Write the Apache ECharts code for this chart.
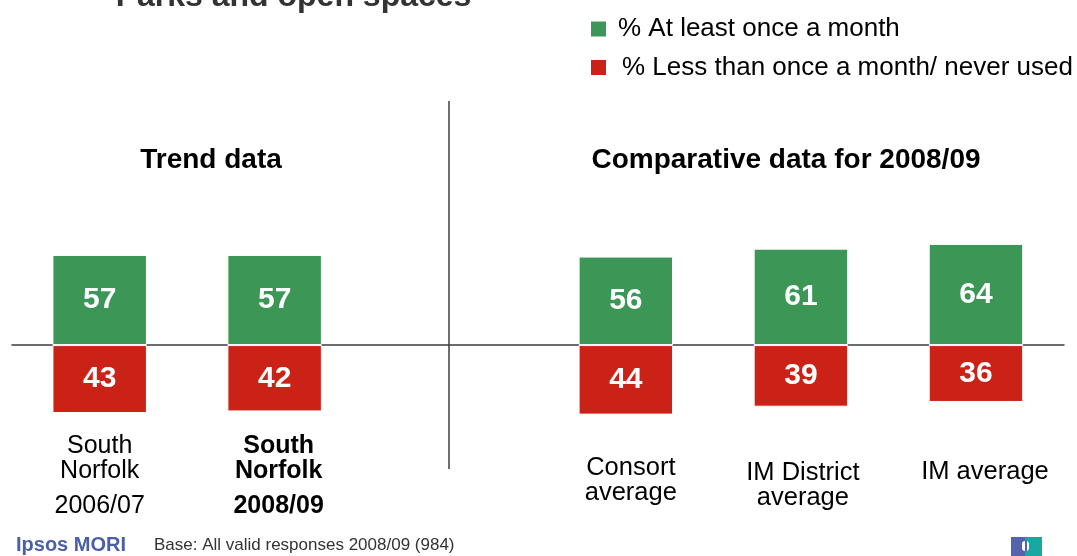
<!DOCTYPE html>
<html>
<head>
<meta charset="utf-8">
<title>Parks and open spaces</title>
<script src="https://cdn.jsdelivr.net/npm/echarts@6/dist/echarts.min.js"></script>
<style>
  html, body { margin: 0; padding: 0; background: #ffffff; }
  #chart { width: 1077px; height: 556px; }
</style>
</head>
<body>
<div id="chart"></div>
<script>
// ---- Data -------------------------------------------------------------
const seriesNames = ['% At least once a month', '% Less than once a month/ never used'];

const trendCategories = ['South\nNorfolk\n2006/07', 'South\nNorfolk\n2008/09'];
const trendMonthly = [57, 57];
const trendLess = [43, 42];

const compareCategories = ['Consort\naverage', 'IM District\naverage', 'IM average'];
const compareMonthly = [56, 61, 64];
const compareLess = [44, 39, 36];

// ---- Styling ----------------------------------------------------------
const FONT = '"Liberation Sans", Arial, Helvetica, sans-serif';
const GREEN = '#3c9757';
const RED = '#cb2217';
const LINE = '#3c3c3c';

// shared vertical scale: 0 sits on the baseline, "less" values hang below it
const yRange = { min: -55, max: 100 };
const gridTop = 187;
const gridBottom = 124;

function valueLabel() {
  return {
    show: true,
    position: 'inside',
    color: '#ffffff',
    fontFamily: FONT,
    fontWeight: 'bold',
    fontSize: 30,
    formatter: p => String(Math.abs(p.value))
  };
}

function barPair(gridIdx, monthly, less) {
  const common = {
    type: 'bar',
    xAxisIndex: gridIdx,
    yAxisIndex: gridIdx,
    barWidth: 94.5,
    barGap: '-100%',
    label: valueLabel(),
    emphasis: { disabled: true }
  };
  return [
    Object.assign({}, common, {
      name: seriesNames[0],
      data: monthly,
      itemStyle: { color: GREEN, borderColor: '#ffffff', borderWidth: 1 }
    }),
    Object.assign({}, common, {
      name: seriesNames[1],
      data: less.map(v => -v),
      itemStyle: { color: RED, borderColor: '#ffffff', borderWidth: 1 }
    })
  ];
}

// category labels for the trend panel; the latest year is emphasised in bold
function trendLabel(value, idx) {
  const bold = idx === trendCategories.length - 1;
  const lines = value.split('\n');
  return lines.map((l, i) => {
    const key = (bold ? 'b' : 'n') + (i === lines.length - 1 ? 'y' : '');
    return '{' + key + '|' + l + '}';
  }).join('\n');
}

// small per-column nudges for the comparison labels
const compareNudgeX = [10, 4, 18];
const compareNudgeY = [2, 7, 6];
function compareLabel(value, idx) {
  const lines = value.split('\n');
  return '{s' + idx + '| }\n' + lines.map(l => '{c' + idx + '|' + l + '}').join('\n');
}

const baseText = { fontFamily: FONT, fontSize: 25, color: '#000000', lineHeight: 25 };
const trendRich = {
  n: Object.assign({}, baseText),
  ny: Object.assign({}, baseText, { lineHeight: 44 }),
  b: Object.assign({}, baseText, { fontWeight: 'bold', padding: [0, 0, 0, 8] }),
  by: Object.assign({}, baseText, { fontWeight: 'bold', lineHeight: 44, padding: [0, 0, 0, 8] })
};
const compareRich = {};
compareCategories.forEach((_, i) => {
  compareRich['c' + i] = Object.assign({}, baseText, { fontSize: 25.5, padding: [0, 0, 0, compareNudgeX[i]] });
  compareRich['s' + i] = { fontSize: 1, lineHeight: compareNudgeY[i] };
});

// legend: the second entry sits a touch further from its swatch
const legendRich = {
  a: { fontFamily: FONT, fontSize: 26, color: '#000000', padding: [0, 0, 0, 6] },
  b: { fontFamily: FONT, fontSize: 26, color: '#000000', padding: [0, 0, 0, 10] }
};

function hiddenY(gridIdx) {
  return {
    type: 'value',
    gridIndex: gridIdx,
    min: yRange.min,
    max: yRange.max,
    show: false
  };
}

const chart = echarts.init(document.getElementById('chart'), null, { renderer: 'canvas' });

chart.setOption({
  animation: false,
  backgroundColor: '#ffffff',
  textStyle: { fontFamily: FONT },
  legend: {
    orient: 'vertical',
    left: 589,
    top: 16,
    padding: 0,
    itemWidth: 17,
    itemHeight: 17,
    itemGap: 12.5,
    icon: 'rect',
    selectedMode: false,
    data: seriesNames,
    formatter: name => (name === seriesNames[0] ? '{a|' : '{b|') + name + '}',
    textStyle: { fontFamily: FONT, fontSize: 26, color: '#000000', rich: legendRich }
  },
  grid: [
    { left: 12.2, right: 714.9, top: gridTop, bottom: gridBottom },
    { left: 538.3, right: 13.5, top: gridTop, bottom: gridBottom },
    { left: 12, right: 13, top: gridTop, bottom: gridBottom }
  ],
  xAxis: [
    {
      type: 'category',
      gridIndex: 0,
      data: trendCategories,
      axisLine: { show: false, onZero: false },
      axisTick: { show: false },
      axisLabel: { margin: 2, interval: 0, formatter: trendLabel, rich: trendRich }
    },
    {
      type: 'category',
      gridIndex: 1,
      data: compareCategories,
      axisLine: { show: false, onZero: false },
      axisTick: { show: false },
      axisLabel: { margin: 21, interval: 0, formatter: compareLabel, rich: compareRich }
    },
    {
      // the baseline running across both panels
      type: 'value',
      gridIndex: 2,
      min: 0,
      max: 1,
      axisLine: { show: true, onZero: true, lineStyle: { color: LINE, width: 1.5 } },
      axisTick: { show: false },
      axisLabel: { show: false },
      splitLine: { show: false }
    }
  ],
  yAxis: [hiddenY(0), hiddenY(1), hiddenY(2)],
  series: [].concat(
    barPair(0, trendMonthly, trendLess),
    barPair(1, compareMonthly, compareLess)
  ),
  graphic: [
    {
      type: 'text', x: 293.5, y: -2.5,
      style: { text: 'Parks and open spaces', fill: '#333333', font: 'bold 32px ' + FONT, textAlign: 'center', textVerticalAlign: 'middle' }
    },
    {
      type: 'text', x: 211, y: 160,
      style: { text: 'Trend data', fill: '#000000', font: 'bold 28px ' + FONT, textAlign: 'center', textVerticalAlign: 'middle' }
    },
    {
      type: 'text', x: 786, y: 160,
      style: { text: 'Comparative data for 2008/09', fill: '#000000', font: 'bold 28px ' + FONT, textAlign: 'center', textVerticalAlign: 'middle' }
    },
    {
      // panel divider
      type: 'line',
      shape: { x1: 449, y1: 101, x2: 449, y2: 469 },
      style: { stroke: LINE, lineWidth: 1.5 }
    },
    {
      type: 'text', x: 16, y: 545,
      style: { text: 'Ipsos MORI', fill: '#4b5fa9', font: 'bold 20px ' + FONT, textAlign: 'left', textVerticalAlign: 'middle' }
    },
    {
      type: 'text', x: 154, y: 545,
      style: { text: 'Base: All valid responses 2008/09 (984)', fill: '#333333', font: '17px ' + FONT, textAlign: 'left', textVerticalAlign: 'middle' }
    },
    // corner badge
    { type: 'rect', shape: { x: 1011, y: 537, width: 14, height: 19 }, style: { fill: '#5463ad' } },
    { type: 'rect', shape: { x: 1025, y: 537, width: 17, height: 19 }, style: { fill: '#17a9a1' } },
    { type: 'rect', shape: { x: 1022, y: 541, width: 7, height: 10, r: 3 }, style: { fill: '#ffffff' } },
    { type: 'rect', shape: { x: 1025, y: 541, width: 2, height: 10 }, style: { fill: '#5463ad' } }
  ]
});
</script>
</body>
</html>
